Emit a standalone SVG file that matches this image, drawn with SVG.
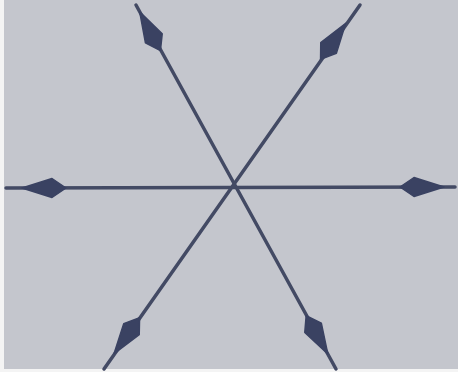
<svg xmlns="http://www.w3.org/2000/svg" width="458" height="372" viewBox="0 0 458 372">
  <style>
    .ln { stroke: #434a64; stroke-width: 3.5; stroke-linecap: round; fill: none; }
    .hd { fill: #3a4262; stroke: #3a4262; stroke-width: 1.5; stroke-linejoin: round; }
  </style>
  <defs>
    <path id="head" d="M 24 0 L -6 -9.5 L -20 0 L -6 9.5 Z"/>
  </defs>
  <rect x="0" y="0" width="458" height="372" fill="#f4f4f4"/>
  <rect x="4" y="0" width="454" height="369" fill="#c4c6cd"/>
  <g id="connectors">
    <line class="ln" x1="6" y1="188" x2="455" y2="187"/>
    <line class="ln" x1="136" y1="5" x2="336" y2="369"/>
    <line class="ln" x1="360" y1="5" x2="104" y2="369"/>
  </g>
  <g id="arrow-nw"><use href="#head" class="hd" transform="translate(151 33) rotate(-118.1)"/></g>
  <g id="arrow-ne"><use href="#head" class="hd" transform="translate(332 43) rotate(-55.1)"/></g>
  <g id="arrow-w"><use href="#head" class="hd" transform="translate(46 188) rotate(180)"/></g>
  <g id="arrow-e"><use href="#head" class="hd" transform="translate(420 187) rotate(0)"/></g>
  <g id="arrow-sw"><use href="#head" class="hd" transform="translate(128 334) rotate(125.4)"/></g>
  <g id="arrow-se"><use href="#head" class="hd" transform="translate(316 333) rotate(60.6)"/></g>
</svg>
